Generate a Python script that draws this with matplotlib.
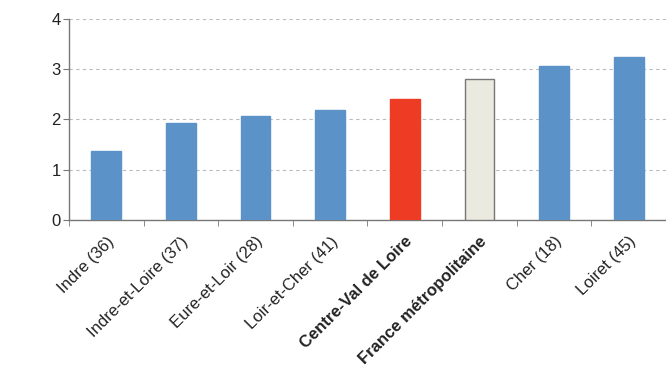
import matplotlib.pyplot as plt
import numpy as np

plt.rcParams['font.family'] = ['Liberation Sans', 'DejaVu Sans']

# Data
categories = ['Indre (36)', 'Indre-et-Loire (37)', 'Eure-et-Loir (28)', 'Loir-et-Cher (41)',
              'Centre-Val de Loire', 'France métropolitaine', 'Cher (18)', 'Loiret (45)']
values = [1.37, 1.93, 2.07, 2.19, 2.41, 2.80, 3.06, 3.24]
colors = ['#5b93c9', '#5b93c9', '#5b93c9', '#5b93c9', '#ee3b24', '#eaeae0', '#5b93c9', '#5b93c9']
bold = [False, False, False, False, True, True, False, False]

fig = plt.figure(figsize=(6.66, 3.69), dpi=100)
ax = fig.add_axes([0.1036, 0.404, 0.8964, 0.5445])

x = np.arange(len(categories))
for i in range(len(categories)):
    edge = '#777777' if colors[i] == '#eaeae0' else colors[i]
    ax.bar(x[i], values[i], width=0.4, color=colors[i], edgecolor=edge,
           linewidth=1.0, zorder=3)

ax.set_xlim(-0.5, len(categories) - 0.5)
ax.set_ylim(0, 4)
ax.set_yticks([0, 1, 2, 3, 4])
ax.yaxis.grid(True, linestyle=(0, (3, 3)), color='#bbbbbb', linewidth=0.8, zorder=0)

ax.set_xticks(x)
ax.set_xticklabels(categories, rotation=45, ha='right', va='top', rotation_mode='anchor')
for lbl, b in zip(ax.get_xticklabels(), bold):
    if b:
        lbl.set_fontweight('bold')
ax.set_xticks(np.arange(-0.5, len(categories)), minor=True)
ax.tick_params(axis='x', which='major', length=0, pad=10, labelsize=12, labelcolor='#222222')
ax.tick_params(axis='x', which='minor', length=4, color='#777777', direction='out')
ax.tick_params(axis='y', length=4, color='#777777', labelsize=12, labelcolor='#222222', pad=2)

for s in ['top', 'right']:
    ax.spines[s].set_visible(False)
for s in ['left', 'bottom']:
    ax.spines[s].set_color('#777777')
    ax.spines[s].set_linewidth(1.0)

fig.savefig('out.png', dpi=100)
